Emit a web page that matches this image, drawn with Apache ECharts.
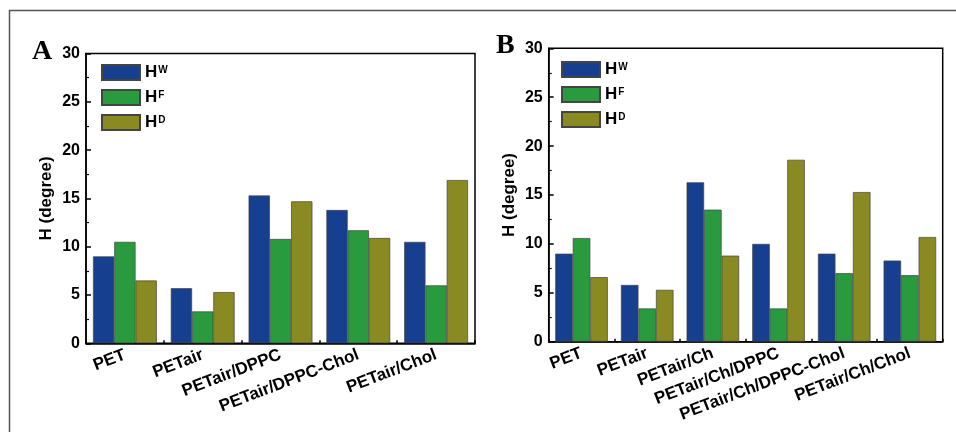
<!DOCTYPE html>
<html>
<head>
<meta charset="utf-8">
<script src="https://cdn.jsdelivr.net/npm/echarts@6/dist/echarts.min.js"></script>
<style>html,body{margin:0;padding:0;background:#fff}#c{width:956px;height:432px}</style>
</head>
<body>
<div id="c"></div>
<script>
const catsA = ['PET', 'PETair', 'PETair/DPPC', 'PETair/DPPC-Chol', 'PETair/Chol'];
const wA = [9.0, 5.7, 15.3, 13.8, 10.5];
const fA = [10.5, 3.3, 10.8, 11.7, 6.0];
const dA = [6.5, 5.3, 14.7, 10.9, 16.9];

const catsB = ['PET', 'PETair', 'PETair/Ch', 'PETair/Ch/DPPC', 'PETair/Ch/DPPC-Chol', 'PETair/Ch/Chol'];
const wB = [9.0, 5.8, 16.3, 10.0, 9.0, 8.3];
const fB = [10.6, 3.4, 13.5, 3.4, 7.0, 6.8];
const dB = [6.6, 5.3, 8.8, 18.6, 15.3, 10.7];

const seriesNames = ['HW', 'HF', 'HD'];
const yTicks = [0, 5, 10, 15, 20, 25, 30];

const colors = ['#173f8f', '#2a9a3f', '#8a8a22'];
const font = 'Liberation Sans, Arial, sans-serif';

const chart = echarts.init(document.getElementById('c'));

function yAxis(gi) {
  return {
    type: 'value', gridIndex: gi, min: yTicks[0], max: yTicks[yTicks.length - 1], interval: 5,
    name: 'H (degree)', nameLocation: 'middle', nameGap: 31,
    nameTextStyle: { fontFamily: font, fontWeight: 'bold', fontSize: 17, color: '#000' },
    axisLine: { show: true, lineStyle: { color: '#000', width: 1.5 } },
    axisTick: { show: true, inside: true, length: 5, lineStyle: { color: '#000', width: 1.5 } },
    minorTick: { show: true, splitNumber: 2, length: 3, lineStyle: { color: '#000', width: 1.2 } },
    splitLine: { show: false },
    axisLabel: { fontFamily: font, fontWeight: 'bold', fontSize: 16, color: '#000', margin: 6 }
  };
}
function xAxis(gi, cats) {
  return {
    type: 'category', gridIndex: gi, data: cats,
    axisLine: { show: true, lineStyle: { color: '#000', width: 1.5 } },
    axisTick: { show: true, inside: true, length: 3, lineStyle: { color: '#000', width: 1.5 } },
    axisLabel: { interval: 0, rotate: 21, fontFamily: font, fontWeight: 'bold', fontSize: 17, color: '#000', margin: 11 }
  };
}
function bars(gi, data, name, idx, gap) {
  return {
    type: 'bar', name: name, xAxisIndex: gi, yAxisIndex: gi, data: data,
    barGap: '0%', barCategoryGap: gap,
    itemStyle: { color: colors[idx], borderColor: '#444', borderWidth: 0.7 }
  };
}
function legend(left, top) {
  return {
    orient: 'vertical', left: left, top: top, data: seriesNames, padding: 0,
    icon: 'rect', itemWidth: 38, itemHeight: 15, itemGap: 8,
    formatter: n => '{h|H}{s|' + n.slice(1) + '}',
    textStyle: {
      rich: {
        h: { fontFamily: font, fontWeight: 'bold', fontSize: 17, color: '#000', lineHeight: 15 },
        s: { fontFamily: font, fontWeight: 'bold', fontSize: 10, color: '#000', verticalAlign: 'top', lineHeight: 8, padding: [0, 0, 0, 1] }
      }
    }
  };
}

chart.setOption({
  animation: false,
  backgroundColor: '#fff',
  grid: [
    { left: 86, top: 53.5, right: 481, bottom: 88.7, show: true, borderColor: '#000', borderWidth: 1.5, backgroundColor: 'transparent' },
    { left: 548.7, top: 48.3, right: 13.3, bottom: 90.3, show: true, borderColor: '#000', borderWidth: 1.5, backgroundColor: 'transparent' }
  ],
  xAxis: [xAxis(0, catsA), xAxis(1, catsB)],
  yAxis: [yAxis(0), yAxis(1)],
  legend: [legend(101, 64), legend(561, 61)],
  series: [
    bars(0, wA, seriesNames[0], 0, '18%'),
    bars(0, fA, seriesNames[1], 1, '18%'),
    bars(0, dA, seriesNames[2], 2, '18%'),
    bars(1, wB, seriesNames[0], 0, '20%'),
    bars(1, fB, seriesNames[1], 1, '20%'),
    bars(1, dB, seriesNames[2], 2, '20%')
  ],
  graphic: [
    { type: 'rect', shape: { x: 9.5, y: 10.5, width: 1200, height: 1200 }, style: { fill: 'none', stroke: '#555', lineWidth: 1.5 }, silent: true },
    { type: 'text', left: 32, top: 38, style: { text: 'A', fontFamily: 'Liberation Serif, Times New Roman, serif', fontWeight: 'bold', fontSize: 28, fill: '#000' } },
    { type: 'text', left: 496, top: 32, style: { text: 'B', fontFamily: 'Liberation Serif, Times New Roman, serif', fontWeight: 'bold', fontSize: 28, fill: '#000' } }
  ]
});
</script>
</body>
</html>
